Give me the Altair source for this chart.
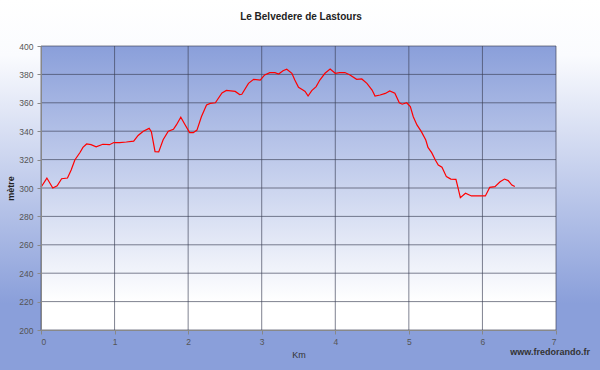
import altair as alt
import pandas as pd

# Elevation profile
km = [0.00, 0.08, 0.16, 0.22, 0.28, 0.36, 0.41, 0.46, 0.53, 0.57, 0.62, 0.68, 0.75, 0.84, 0.93,
      0.99, 1.07, 1.16, 1.26, 1.32, 1.39, 1.47, 1.50, 1.55, 1.60, 1.66, 1.73, 1.80, 1.84, 1.90,
      1.96, 2.02, 2.07, 2.12, 2.18, 2.25, 2.30, 2.37, 2.46, 2.52, 2.64, 2.70, 2.73, 2.82, 2.89,
      2.98, 3.04, 3.11, 3.18, 3.23, 3.29, 3.34, 3.41, 3.45, 3.50, 3.56, 3.59, 3.63, 3.68, 3.74,
      3.79, 3.86, 3.93, 4.00, 4.06, 4.13, 4.20, 4.29, 4.36, 4.43, 4.50, 4.54, 4.61, 4.68, 4.74,
      4.81, 4.87, 4.91, 4.97, 5.02, 5.06, 5.11, 5.17, 5.23, 5.26, 5.31, 5.36, 5.40, 5.45, 5.51,
      5.57, 5.64, 5.67, 5.70, 5.77, 5.85, 5.94, 6.04, 6.10, 6.17, 6.24, 6.30, 6.35, 6.40, 6.44]
metre = [300.5, 307, 300, 301.5, 306.5, 307, 312.7, 319.7, 325, 328.6, 331, 330.5, 329, 330.8, 330.5,
         332, 332, 332.4, 333, 337, 340, 342, 339.7, 325.6, 325.4, 334, 340, 341.3, 344.4, 349.8,
         344.4, 339, 339, 340.8, 350.2, 358.5, 359.6, 360, 367, 368.7, 368, 365.8, 366, 373.7, 376.5,
         376, 379.6, 381.2, 381.2, 380.3, 382.6, 383.6, 380.8, 376, 370.9, 369, 368, 364.8, 368.6, 371.4,
         376, 380.8, 383.8, 380.8, 381.3, 381.3, 379.6, 376.5, 376.8, 373.7, 369, 364.8, 365.5, 366.6, 368.3,
         366.8, 360, 359, 360, 357.3, 350.2, 344.4, 339.7, 333.8, 328.6, 324.9, 319.7, 316.2, 314.6, 308,
         306.3, 306.1, 299.8, 293.2, 296.3, 294.4, 294.4, 294.4, 300.5, 301, 304.4, 306.3, 305.2, 302.1, 301]

x_ticks = [0, 1, 2, 3, 4, 5, 6, 7]
y_ticks = [200, 220, 240, 260, 280, 300, 320, 340, 360, 380, 400]

TITLE = "Le Belvedere de Lastours"
CREDIT = "www.fredorando.fr"

W, H = 515, 284
FONT = "Liberation Sans"

profile = pd.DataFrame({"km": km, "m": metre})
xgrid = pd.DataFrame({"km": x_ticks})
ygrid = pd.DataFrame({"m": y_ticks})
one = pd.DataFrame({"a": [0]})

xscale = alt.Scale(domain=[0, 7], nice=False, zero=False)
yscale = alt.Scale(domain=[200, 400], nice=False, zero=False)
xaxis = alt.Axis(values=x_ticks, title="Km", grid=False, zindex=1, labelFontSize=8.5,
                 labelColor="#555", tickColor="#888", tickSize=4, domainColor="#888",
                 titleFontSize=9, titleFontWeight="normal", titleColor="#333", titlePadding=5,
                 labelPadding=3, labelFont=FONT, titleFont=FONT)
yaxis = alt.Axis(values=y_ticks, title="mètre", grid=False, zindex=1, labelFontSize=8.5,
                 labelColor="#555", tickColor="#888", tickSize=4, domainColor="#888",
                 titleFontSize=9, titleFontWeight="bold", titleColor="#222", titlePadding=3,
                 labelPadding=4, labelFont=FONT, titleFont=FONT)

outer_grad = alt.Gradient(gradient="linear", x1=0, y1=0, x2=0, y2=1, stops=[
    alt.GradientStop(offset=0, color="#ffffff"),
    alt.GradientStop(offset=0.15, color="#fafbfe"),
    alt.GradientStop(offset=0.82, color="#8a9fda"),
    alt.GradientStop(offset=1, color="#8a9fda"),
])
plot_grad = alt.Gradient(gradient="linear", x1=0, y1=0, x2=0, y2=1, stops=[
    alt.GradientStop(offset=0, color="#8a9fda"),
    alt.GradientStop(offset=0.9, color="#ffffff"),
    alt.GradientStop(offset=1, color="#ffffff"),
])

outer = alt.Chart(one).mark_rect(color=outer_grad).encode(
    x=alt.value(-41), x2=alt.value(600 - 41), y=alt.value(-46), y2=alt.value(370 - 46))
inner = alt.Chart(one).mark_rect(color=plot_grad).encode(
    x=alt.value(0), x2=alt.value(W), y=alt.value(0), y2=alt.value(H))

vgrid = alt.Chart(xgrid).mark_rule(color="#3a3f55", strokeWidth=1, opacity=0.65).encode(
    x=alt.X("km:Q", scale=xscale, axis=xaxis))
hgrid = alt.Chart(ygrid).mark_rule(color="#3a3f55", strokeWidth=1, opacity=0.65).encode(
    y=alt.Y("m:Q", scale=yscale, axis=yaxis))

line = alt.Chart(profile).mark_line(color="#ff0000", strokeWidth=1.2).encode(
    x=alt.X("km:Q", scale=xscale, axis=xaxis),
    y=alt.Y("m:Q", scale=yscale, axis=yaxis))

title = alt.Chart(one).mark_text(text=TITLE, align="center", baseline="middle",
                                 font=FONT, fontSize=10, fontWeight="bold", color="#222").encode(
    x=alt.value(301 - 41), y=alt.value(17 - 46))

credit = alt.Chart(one).mark_text(text=CREDIT, align="right", baseline="middle",
                                  font=FONT, fontSize=9, fontWeight="bold", color="#333").encode(
    x=alt.value(590 - 41), y=alt.value(352 - 46))

chart = alt.layer(outer, inner, vgrid, hgrid, line, title, credit).properties(
    width=W, height=H,
    autosize=alt.AutoSizeParams(type="none"),
    padding={"left": 41, "top": 46, "right": 44, "bottom": 40},
).configure_view(stroke="#999", strokeWidth=1)

chart.save("out.html", embed_options={"renderer": "svg", "actions": False})
